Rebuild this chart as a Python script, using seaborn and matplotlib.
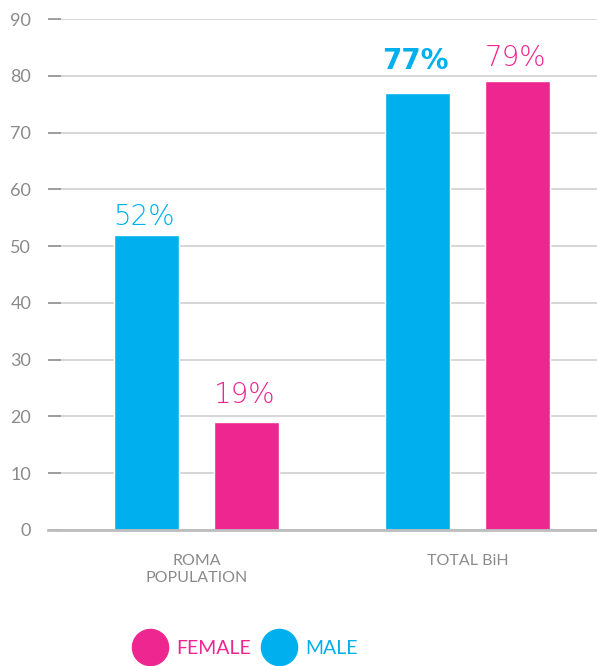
import matplotlib
matplotlib.use("Agg")
import matplotlib.pyplot as plt
import seaborn as sns
import pandas as pd
from matplotlib.lines import Line2D

# Data
groups = ["ROMA\nPOPULATION", "TOTAL BiH"]
genders = ["MALE", "FEMALE"]
male_values = [52, 77]
female_values = [19, 79]
y_ticks = [0, 10, 20, 30, 40, 50, 60, 70, 80, 90]

BLUE = "#00B0EE"
PINK = "#EE2690"
GRAY_TEXT = "#8a8a8a"

df = pd.DataFrame({
    "group": groups * 2,
    "gender": ["MALE"] * len(groups) + ["FEMALE"] * len(groups),
    "value": male_values + female_values,
})

sns.set_theme(style="white")
plt.rcParams["font.family"] = ["Lato", "DejaVu Sans"]

fig = plt.figure(figsize=(5.97, 6.66), dpi=100)
ax = fig.add_axes([48 / 597, 136 / 666, 549 / 597, 511 / 666])

sns.barplot(data=df, x="group", y="value", hue="gender", order=groups,
            hue_order=genders, palette={"MALE": BLUE, "FEMALE": PINK},
            width=0.74, gap=0.35, saturation=1, ax=ax, legend=False,
            errorbar=None, zorder=3)

ax.set_xlim(-0.548, 1.478)
ax.set_ylim(0, 90)
ax.set_yticks(y_ticks)
ax.yaxis.grid(True, color="#cfcfcf", linewidth=1.2, zorder=0)
ax.set_axisbelow(True)
for s in ["top", "right", "left"]:
    ax.spines[s].set_visible(False)
ax.spines["bottom"].set_color("#bdbdbd")
ax.spines["bottom"].set_linewidth(2)
ax.spines["bottom"].set_zorder(4)

ax.tick_params(axis="y", direction="in", length=9, width=1.3,
               color="#9a9a9a", pad=12, labelsize=13, labelcolor=GRAY_TEXT,
               left=True)
ax.tick_params(axis="x", length=0, pad=17, labelsize=11.5, labelcolor=GRAY_TEXT)
for lab in ax.get_xticklabels():
    lab.set_verticalalignment("top")
    lab.set_linespacing(1.3)
ax.set_xlabel("")
ax.set_ylabel("")

# Value labels above bars (gap in pixels between bar top and text baseline)
label_pads = {("MALE", 0): 10, ("FEMALE", 0): 19, ("MALE", 1): 24, ("FEMALE", 1): 15}
label_weights = {("MALE", 1): "bold"}
for gender, container in zip(genders, ax.containers):
    color = BLUE if gender == "MALE" else PINK
    for ci, bar in enumerate(container):
        v = bar.get_height()
        ax.annotate(f"{v:.0f}%", (bar.get_x() + bar.get_width() / 2, v),
                    xytext=(-1.5, label_pads[(gender, ci)] * 0.72),
                    textcoords="offset points", ha="center", va="baseline",
                    fontsize=20, color=color, family="DejaVu Sans",
                    fontweight=label_weights.get((gender, ci), "light"))

# Legend with round markers
handles = [
    Line2D([], [], linestyle="none", marker="o", markersize=26,
           markerfacecolor=PINK, markeredgecolor=PINK, label="FEMALE"),
    Line2D([], [], linestyle="none", marker="o", markersize=26,
           markerfacecolor=BLUE, markeredgecolor=BLUE, label="MALE"),
]
leg = fig.legend(handles=handles, loc="center", bbox_to_anchor=(246 / 597, 1 - 648 / 666),
                 ncol=2, frameon=False, fontsize=14, handletextpad=0.55,
                 columnspacing=0.6, handlelength=1.6)
for txt, c in zip(leg.get_texts(), [PINK, BLUE]):
    txt.set_color(c)

fig.savefig("out.png", dpi=100)
